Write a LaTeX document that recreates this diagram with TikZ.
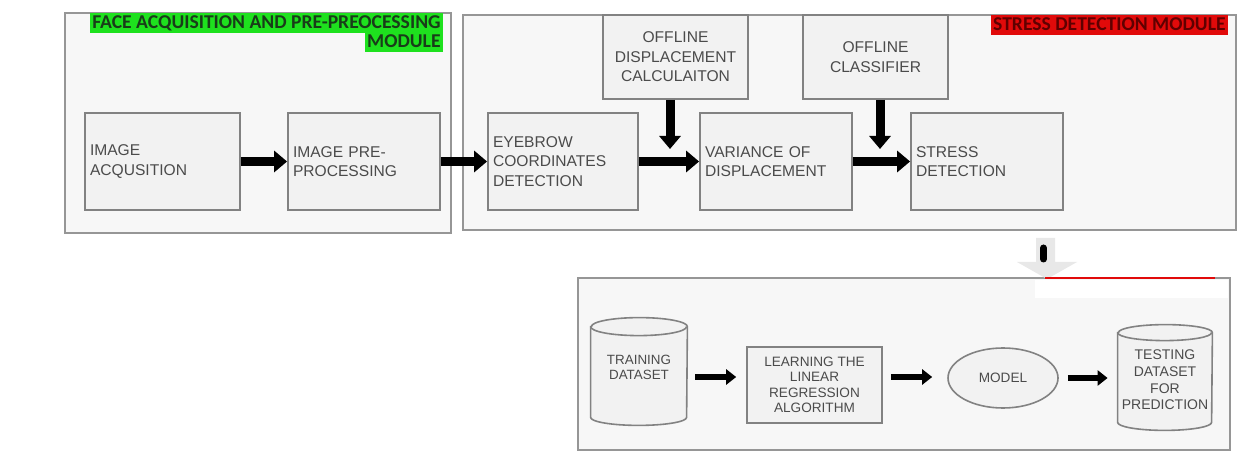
\documentclass[tikz,border=0pt]{standalone}
\usepackage{fontspec}
\setmainfont{Liberation Sans}
\newfontfamily\calib{Carlito}
\usetikzlibrary{arrows.meta,shapes.geometric}

\definecolor{modline}{RGB}{150,150,150}
\definecolor{boxline}{RGB}{130,130,130}
\definecolor{modfill}{RGB}{247,247,247}
\definecolor{boxfill}{RGB}{242,242,242}
\definecolor{txt}{RGB}{75,75,75}
\definecolor{hlgreen}{RGB}{30,225,30}
\definecolor{hlred}{RGB}{225,10,10}
\definecolor{chevgray}{RGB}{232,232,232}

\tikzset{
  module/.style={draw=modline, fill=modfill, line width=0.8pt, inner sep=0pt},
  stepbox/.style={draw=boxline, fill=boxfill, line width=0.9pt, minimum height=48.5pt,
    inner xsep=2.5pt, align=left, text=txt, font=\fontsize{7.8}{9.8}\selectfont},
  offbox/.style={draw=boxline, fill=boxfill, line width=0.9pt, minimum height=42pt,
    inner xsep=2.5pt, align=center, text=txt, font=\fontsize{7.8}{9.8}\selectfont},
  smallbox/.style={draw=boxline, fill=boxfill, line width=0.8pt, align=center, text=txt,
    inner sep=0pt, font=\fontsize{6.8}{7.7}\selectfont},
  cylbody/.style={inner sep=0pt},
  cyldraw/.style={draw=boxline, fill=boxfill, line width=0.8pt},
  smalltxt/.style={align=center, text=txt, inner sep=0pt},
  title/.style={inner xsep=1pt, inner ysep=0pt, text height=7.5pt, text depth=2.25pt,
    font=\calib\bfseries\fontsize{9.8}{11}\selectfont},
  bigarrow/.style={line width=4.5pt, -{Triangle[length=6.5pt,width=10.5pt]}},
  smallarrow/.style={line width=3.2pt, -{Triangle[length=5pt,width=7.5pt]}},
}

\begin{document}
\begin{tikzpicture}[x=0.5pt,y=-0.5pt]
\useasboundingbox[fill=white] (0,0) rectangle (1257,459);

% ---- module frames ----
\node[module, minimum width=193pt, minimum height=110pt] (modA) at (258,123) {};
\node[module, minimum width=386.5pt, minimum height=107.5pt] (modB) at (849.5,122.5) {};
\node[module, minimum width=326pt, minimum height=86pt] (modC) at (904,364) {};

% ---- module titles ----
\node[title, fill=hlgreen, text={rgb,255:red,25;green,60;blue,25}, anchor=north east] (tA1) at (443,13) {FACE ACQUISITION AND PRE-PREOCESSING};
\node[title, fill=hlgreen, text={rgb,255:red,25;green,60;blue,25}, anchor=north east] (tA2) at (443,32.5) {MODULE};
\node[title, fill=hlred, text={rgb,255:red,95;green,0;blue,0}, anchor=north east] (tB) at (1228,15) {STRESS DETECTION MODULE};

% ---- acquisition module ----
\node[stepbox, text width=72.5pt] (acq) at (162.5,161.5) {IMAGE\\ACQUSITION};
\node[stepbox, text width=71pt] (prep) at (364,161.5) {IMAGE PRE-\\PROCESSING};

% ---- stress detection module ----
\node[stepbox, text width=70pt] (eye) at (563,161.5) {EYEBROW\\COORDINATES\\DETECTION};
\node[stepbox, text width=71pt] (var) at (776,161.5) {VARIANCE OF\\DISPLACEMENT};
\node[stepbox, text width=71pt] (stress) at (987,161.5) {STRESS\\DETECTION};
\node[offbox, text width=67.5pt] (offdisp) at (675.5,57) {OFFLINE\\DISPLACEMENT\\CALCULAITON};
\node[offbox, text width=67.5pt] (offcls) at (875.5,57) {OFFLINE\\CLASSIFIER};

\coordinate (dA) at (670,149);
\coordinate (dB) at (880,149);

\draw[bigarrow] (acq.east) -- (prep.west);
\draw[bigarrow] (prep.east) -- (eye.west);
\draw[bigarrow] (eye.east) -- (var.west);
\draw[bigarrow] (var.east) -- (stress.west);
\draw[bigarrow] (offdisp.south -| dA) -- (dA);
\draw[bigarrow] (offcls.south -| dB) -- (dB);

% ---- hand-over marker between the modules ----
\coordinate (hvTop) at (1043.5,248);
\coordinate (hvBot) at (1043.5,259);
\fill[chevgray] (1017,262) -- (1047,279) -- (1077,262) -- (1055,262) -- (1055,238)
  -- (1036,238) -- (1036,262) -- cycle;
\draw[black, line width=3.5pt, line cap=round] (hvTop) -- (hvBot);
\fill[white] (1035,280) rectangle (1228,298);
\draw[hlred, line width=1pt] (1045,278) -- (1215,278);

% ---- learning pipeline ----
\node[cylbody, minimum width=48pt, minimum height=53.5pt] (train) at (639,371.5) {};
\draw[cyldraw] ([yshift=-4.5pt]train.north west) -- ([yshift=4pt]train.south west)
  arc[start angle=180, end angle=360, x radius=24pt, y radius=4pt]
  -- ([yshift=-4.5pt]train.north east)
  arc[start angle=0, end angle=180, x radius=24pt, y radius=4.5pt] -- cycle;
\draw[boxline, line width=0.8pt] ([yshift=-4.5pt]train.north west)
  arc[start angle=180, end angle=360, x radius=24pt, y radius=4.5pt];
\node[smalltxt, font=\fontsize{6.7}{7.6}\selectfont] (trainTxt) at (639,367) {TRAINING\\DATASET};

\node[smallbox, minimum width=67.5pt, minimum height=38pt] (learn) at (814.5,385) {LEARNING THE\\LINEAR\\REGRESSION\\ALGORITHM};

\node[ellipse, draw=boxline, fill=boxfill, line width=0.8pt, minimum width=55pt, minimum height=30pt,
  inner sep=0pt, text=txt, font=\fontsize{6.8}{8}\selectfont] (model) at (1003,378) {MODEL};

\node[cylbody, minimum width=47pt, minimum height=52.5pt] (test) at (1165,377.5) {};
\draw[cyldraw] ([yshift=-4pt]test.north west) -- ([yshift=4pt]test.south west)
  arc[start angle=180, end angle=360, x radius=23.5pt, y radius=4pt]
  -- ([yshift=-4pt]test.north east)
  arc[start angle=0, end angle=180, x radius=23.5pt, y radius=4pt] -- cycle;
\draw[boxline, line width=0.8pt] ([yshift=-4pt]test.north west)
  arc[start angle=180, end angle=360, x radius=23.5pt, y radius=4pt];
\node[smalltxt, font=\fontsize{7}{8.3}\selectfont] (testTxt) at (1165,380) {TESTING\\DATASET\\FOR\\PREDICTION};

\coordinate (rowB) at (0,377);
\draw[smallarrow, shorten <=4pt, shorten >=5pt] (train.east |- rowB) -- (learn.west |- rowB);
\draw[smallarrow, shorten <=4pt, shorten >=7.5pt] (learn.east |- rowB) -- (model.west |- rowB);
\draw[smallarrow, shorten <=4.5pt, shorten >=5pt] (model.east) -- (test.west |- model.east);
\end{tikzpicture}
\end{document}
